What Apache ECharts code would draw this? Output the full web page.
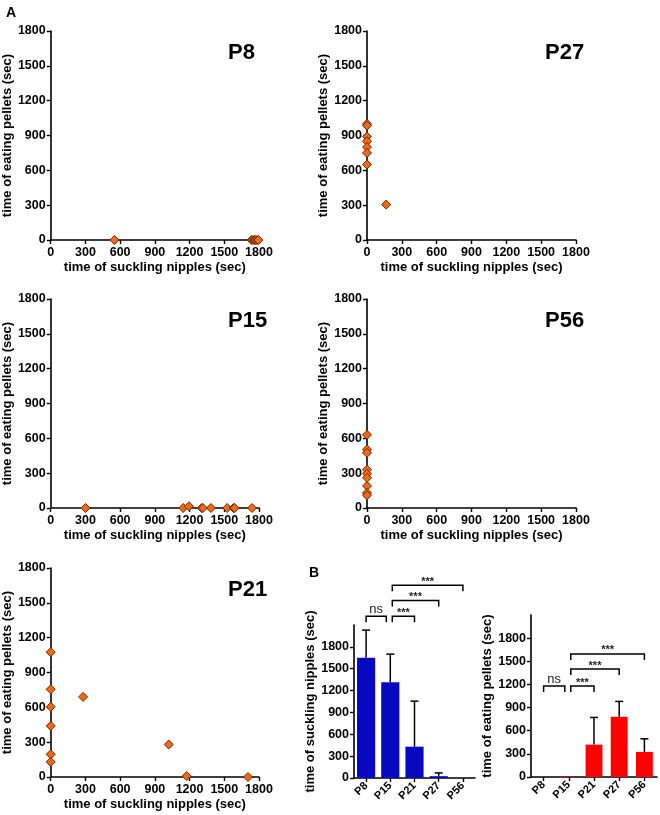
<!DOCTYPE html>
<html>
<head>
<meta charset="utf-8">
<script src="https://cdn.jsdelivr.net/npm/echarts@6/dist/echarts.min.js"></script>
<style>
html, body { margin: 0; padding: 0; background: #fff; }
#main { width: 660px; height: 815px; }
</style>
</head>
<body>
<div id="main"></div>
<script>
var myChart = echarts.init(document.getElementById('main'));

// A: [time of suckling nipples, time of eating pellets] (sec)
var panelNames = ['P8', 'P27', 'P15', 'P56', 'P21'];
var p8Data = [[550, 0], [1735, 0], [1748, 0], [1760, 0], [1772, 0], [1784, 0], [1795, 0]];
var p27Data = [[0, 1000], [0, 985], [0, 890], [0, 850], [0, 800], [0, 750], [0, 650], [165, 305]];
var p15Data = [[300, 0], [1145, 0], [1195, 15], [1305, 0], [1315, 0], [1385, 0], [1525, 0], [1580, 0], [1590, 0], [1740, 0]];
var p56Data = [[0, 630], [0, 505], [0, 475], [0, 330], [0, 295], [0, 260], [0, 190], [0, 130], [0, 110]];
var p21Data = [[0, 1075], [0, 755], [0, 605], [0, 440], [0, 195], [0, 130], [280, 690], [1020, 280], [1175, 8], [1705, 0]];
var scatterData = [p8Data, p27Data, p15Data, p56Data, p21Data];
var axisTicks = [0, 300, 600, 900, 1200, 1500, 1800];

// B: mean + SD per age
var ageGroups = ['P8', 'P15', 'P21', 'P27', 'P56'];
var sucklingMean = [1650, 1315, 430, 25, 0];
var sucklingSD = [380, 385, 625, 45, 0];
var pelletsMean = [0, 5, 420, 780, 325];
var pelletsSD = [0, 0, 352, 200, 170];
// significance brackets: [from group, to group, bracket height]
var sucklingSig = [[0, 1, 2220], [1, 2, 2220], [1, 3, 2435], [1, 4, 2645]];
var sucklingSigText = ['ns', '***', '***', '***'];
var pelletsSig = [[0, 1, 1180], [1, 2, 1180], [1, 3, 1400], [1, 4, 1595]];
var pelletsSigText = ['ns', '***', '***', '***'];

var FONT = 'Liberation Sans, Arial, sans-serif';
var scatterPos = [[50, 31], [367, 31], [50, 299], [367, 299], [50, 568]];

var grids = [], xAxes = [], yAxes = [], series = [], titles = [];

var axisLine = { show: true, lineStyle: { color: '#000', width: 1.6 } };
var axisTick = { show: true, inside: false, length: 4, lineStyle: { color: '#000', width: 1.4 } };
function plain(v) { return String(v); }
var boldLabel = { color: '#000', fontWeight: 'bold', fontSize: 12.5, fontFamily: FONT, formatter: plain };
var nameStyle = { color: '#000', fontWeight: 'bold', fontSize: 13, fontFamily: FONT };

for (var i = 0; i < 5; i++) {
    grids.push({ left: scatterPos[i][0], top: scatterPos[i][1], width: 209, height: 209 });
    xAxes.push({
        gridIndex: i, type: 'value', min: 0, max: 1800, interval: 300,
        name: 'time of suckling nipples (sec)', nameLocation: 'middle', nameGap: 21,
        nameTextStyle: nameStyle,
        axisLine: axisLine, axisTick: axisTick, splitLine: { show: false },
        axisLabel: Object.assign({ margin: 6 }, boldLabel)
    });
    yAxes.push({
        gridIndex: i, type: 'value', min: 0, max: 1800, interval: 300,
        name: 'time of eating pellets (sec)', nameLocation: 'middle', nameGap: 35,
        nameTextStyle: nameStyle,
        axisLine: axisLine, axisTick: axisTick, splitLine: { show: false },
        axisLabel: Object.assign({ margin: 5 }, boldLabel)
    });
    series.push({
        type: 'scatter', xAxisIndex: i, yAxisIndex: i,
        symbol: 'diamond', symbolSize: 9,
        itemStyle: { color: '#F0691A', borderColor: '#6a2a00', borderWidth: 1, opacity: 1 },
        data: scatterData[i]
    });
    titles.push({
        text: panelNames[i], left: scatterPos[i][0] + 173, top: scatterPos[i][1] + 6,
        textStyle: { fontSize: 22, fontWeight: 'bold', color: '#000', fontFamily: FONT }
    });
}
titles.push({ text: 'A', left: 1, top: 1, textStyle: { fontSize: 14, fontWeight: 'bold', color: '#000', fontFamily: FONT } });
titles.push({ text: 'B', left: 304, top: 561, textStyle: { fontSize: 14, fontWeight: 'bold', color: '#000', fontFamily: FONT } });

// bar panels
grids.push({ left: 354, top: 625, width: 121, height: 153 });
grids.push({ left: 531, top: 615, width: 126, height: 162 });
var barNames = ['time of suckling nipples (sec)', 'time of eating pellets (sec)'];
var barGaps = [34, 36];
for (var k = 0; k < 2; k++) {
    xAxes.push({
        gridIndex: 5 + k, type: 'category', data: ageGroups,
        axisLine: axisLine,
        axisTick: { show: true, alignWithLabel: true, length: 4, lineStyle: { color: '#000', width: 1.4 } },
        axisLabel: { rotate: 45, margin: 6, color: '#000', fontWeight: 'bold', fontSize: 11, fontFamily: FONT, interval: 0 }
    });
    yAxes.push({
        gridIndex: 5 + k, type: 'value', min: 0, max: 2100, interval: 300,
        name: barNames[k], nameLocation: 'middle', nameGap: barGaps[k],
        nameTextStyle: nameStyle,
        axisLine: axisLine, splitLine: { show: false },
        axisTick: { show: true, length: 4, customValues: axisTicks, lineStyle: { color: '#000', width: 1.4 } },
        axisLabel: Object.assign({ margin: 5, customValues: axisTicks }, boldLabel)
    });
}

function errorData(mean, sd) {
    return mean.map(function (m, j) { return [j, m, m + sd[j]]; });
}

function renderError(params, api) {
    var lo = api.value(1), hi = api.value(2);
    if (hi <= lo) return null;
    var p0 = api.coord([api.value(0), lo]);
    var p1 = api.coord([api.value(0), hi]);
    var st = { stroke: '#000', lineWidth: 1.5 };
    return {
        type: 'group', children: [
            { type: 'line', shape: { x1: p0[0], y1: p0[1], x2: p1[0], y2: p1[1] }, style: st },
            { type: 'line', shape: { x1: p1[0] - 4, y1: p1[1], x2: p1[0] + 4, y2: p1[1] }, style: st }
        ]
    };
}

function makeBracket(labels) {
    return function (params, api) {
        var from = api.value(0), to = api.value(1), h = api.value(2);
        var a = api.coord([from, h]);
        var b = api.coord([to, h]);
        var x1 = a[0] + (from === 1 ? 2 : 0);
        var x2 = b[0] - (to === 1 ? 4 : 0);
        var y = a[1];
        var txt = labels[params.dataIndex];
        var isNs = txt === 'ns';
        return {
            type: 'group', children: [
                { type: 'polyline', shape: { points: [[x1, y + 6], [x1, y], [x2, y], [x2, y + 6]] },
                  style: { stroke: '#000', lineWidth: 1.5, fill: null } },
                { type: 'text', style: {
                    text: txt, x: (x1 + x2) / 2, y: y + (isNs ? 0 : 2),
                    align: 'center', verticalAlign: 'bottom',
                    textAlign: 'center', textVerticalAlign: 'bottom',
                    fill: '#222', font: (isNs ? '13px ' : 'bold 11px ') + FONT
                } }
            ]
        };
    };
}

var barSets = [
    { mean: sucklingMean, sd: sucklingSD, sig: sucklingSig, sigText: sucklingSigText, color: '#0808C0', gap: '25%' },
    { mean: pelletsMean, sd: pelletsSD, sig: pelletsSig, sigText: pelletsSigText, color: '#FF0000', gap: '33%' }
];
barSets.forEach(function (s, k) {
    series.push({
        type: 'bar', xAxisIndex: 5 + k, yAxisIndex: 5 + k,
        barCategoryGap: s.gap,
        itemStyle: { color: s.color },
        data: s.mean
    });
    series.push({
        type: 'custom', xAxisIndex: 5 + k, yAxisIndex: 5 + k,
        renderItem: renderError, data: errorData(s.mean, s.sd), z: 3, clip: false
    });
    series.push({
        type: 'custom', xAxisIndex: 5 + k, yAxisIndex: 5 + k,
        renderItem: makeBracket(s.sigText), data: s.sig, z: 3, clip: false
    });
});

var option = {
    animation: false,
    backgroundColor: '#fff',
    title: titles,
    grid: grids,
    xAxis: xAxes,
    yAxis: yAxes,
    series: series
};

myChart.setOption(option);
</script>
</body>
</html>
